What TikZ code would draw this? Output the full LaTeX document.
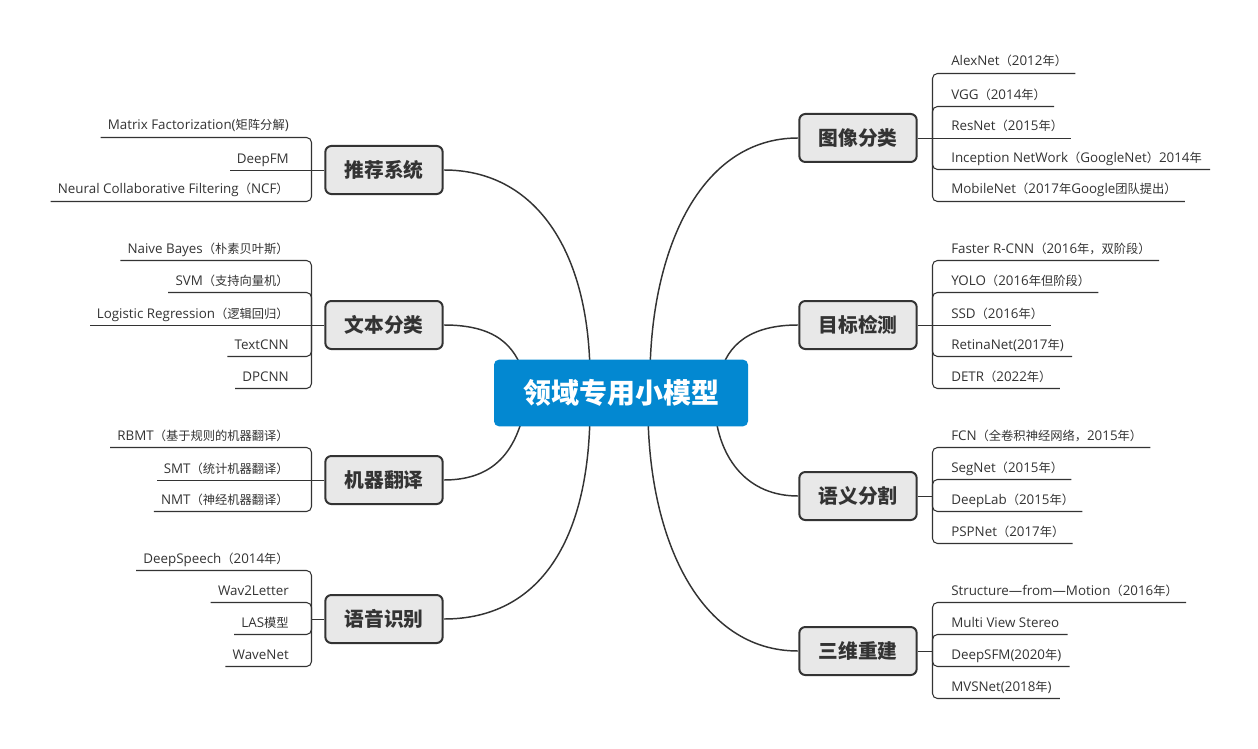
\documentclass[tikz,border=0pt]{standalone}
\usepackage{fontspec}
\setmainfont{Open Sans}[Scale=1.09]
\newfontfamily\cjkfont{Noto Sans CJK SC}
\newcommand{\zh}[1]{{\cjkfont #1}}
\usepackage{xcolor}
\usepackage{tikz}
\usetikzlibrary{calc,positioning}
\definecolor{rootblue}{RGB}{3,136,209}
\definecolor{inkgray}{RGB}{51,51,51}
\definecolor{boxgray}{RGB}{232,232,232}
\tikzset{
  rootbox/.style={rectangle, rounded corners=3.75pt, fill=rootblue, draw=none, minimum width=190.5pt, minimum height=50pt, text=white, font=\cjkfont\fontsize{21}{24}\selectfont\bfseries},
  branch/.style={rectangle, rounded corners=4.5pt, draw=inkgray, line width=1.5pt, fill=boxgray, minimum width=88pt, minimum height=36pt, text=inkgray, font=\cjkfont\fontsize{14.8}{17}\selectfont\bfseries},
  leafL/.style={anchor=base east, inner sep=0pt, text=inkgray, font=\fontsize{9.2}{11}\selectfont},
  leafR/.style={leafL, anchor=base west},
  limb/.style={draw=inkgray, line width=1.1pt},
  twig/.style={draw=inkgray, line width=0.8pt, rounded corners=3.75pt}
}

\begin{document}
\begin{tikzpicture}[x=0.75pt, y=-0.75pt]
\useasboundingbox (0,0) rectangle (1258,749);
% main branches
\draw[limb] (444,170) .. controls (535,170) and (589,250) .. (590,375);
\draw[limb] (444,325) .. controls (495,325) and (515,345) .. (524,375);
\draw[limb] (444,480) .. controls (495,480) and (515,450) .. (524,412);
\draw[limb] (444,619) .. controls (540,619) and (589,540) .. (590,412);
\draw[limb] (798,138) .. controls (700,138) and (651,250) .. (650,375);
\draw[limb] (798,325) .. controls (750,325) and (727,345) .. (720,375);
\draw[limb] (798,496) .. controls (748,496) and (720,460) .. (715,412);
\draw[limb] (798,651) .. controls (700,651) and (649,540) .. (648,412);

\node[rootbox] (root) at (621,393) {领域专用小模型};

\node[branch] (rec) at (384,170) {推荐系统};
\node[branch] (txt) at (384,325) {文本分类};
\node[branch] (mt) at (384,480) {机器翻译};
\node[branch] (asr) at (384,619) {语音识别};
\node[branch] (img) at (858,138) {图像分类};
\node[branch] (det) at (858,325) {目标检测};
\node[branch] (seg) at (858,496) {语义分割};
\node[branch] (r3d) at (858,651) {三维重建};

% left leaves
\node[leafL] (rec1) at (289,130) {Matrix Factorization(\zh{矩阵分解})};
\node[leafL] (rec2) at (289,163) {DeepFM};
\node[leafL] (rec3) at (289,194) {Neural Collaborative Filtering\zh{（}NCF\zh{）}};
\node[leafL] (txt1) at (289,253) {Naive Bayes\zh{（朴素贝叶斯）}};
\node[leafL] (txt2) at (289,285) {SVM\zh{（支持向量机）}};
\node[leafL] (txt3) at (289,318) {Logistic Regression\zh{（逻辑回归）}};
\node[leafL] (txt4) at (289,349) {TextCNN};
\node[leafL] (txt5) at (289,381) {DPCNN};
\node[leafL] (mt1) at (289,440) {RBMT\zh{（基于规则的机器翻译）}};
\node[leafL] (mt2) at (289,473) {SMT\zh{（统计机器翻译）}};
\node[leafL] (mt3) at (289,504) {NMT\zh{（神经机器翻译）}};
\node[leafL] (asr1) at (289,563) {DeepSpeech\zh{（}2014\zh{年）}};
\node[leafL] (asr2) at (289,595) {Wav2Letter};
\node[leafL] (asr3) at (289,627) {LAS\zh{模型}};
\node[leafL] (asr4) at (289,659) {WaveNet};

% right leaves
\node[leafR] (img1) at (951,66) {AlexNet\zh{（}2012\zh{年）}};
\node[leafR] (img2) at (951,99) {VGG\zh{（}2014\zh{年）}};
\node[leafR] (img3) at (951,131) {ResNet\zh{（}2015\zh{年）}};
\node[leafR] (img4) at (951,162) {Inception NetWork\zh{（}GoogleNet\zh{）}2014\zh{年}};
\node[leafR] (img5) at (951,194) {MobileNet\zh{（}2017\zh{年}Google\zh{团队提出）}};
\node[leafR] (det1) at (951,253) {Faster R-CNN\zh{（}2016\zh{年，双阶段）}};
\node[leafR] (det2) at (951,285) {YOLO\zh{（}2016\zh{年但阶段）}};
\node[leafR] (det3) at (951,318) {SSD\zh{（}2016\zh{年）}};
\node[leafR] (det4) at (951,349) {RetinaNet(2017\zh{年})};
\node[leafR] (det5) at (951,381) {DETR\zh{（}2022\zh{年）}};
\node[leafR] (seg1) at (951,440) {FCN\zh{（全卷积神经网络，}2015\zh{年）}};
\node[leafR] (seg2) at (951,472) {SegNet\zh{（}2015\zh{年）}};
\node[leafR] (seg3) at (951,504) {DeepLab\zh{（}2015\zh{年）}};
\node[leafR] (seg4) at (951,536) {PSPNet\zh{（}2017\zh{年）}};
\node[leafR] (r3d1) at (951,595) {Structure—from—Motion\zh{（}2016\zh{年）}};
\node[leafR] (r3d2) at (951,627) {Multi View Stereo};
\node[leafR] (r3d3) at (951,659) {DeepSFM(2020\zh{年})};
\node[leafR] (r3d4) at (951,691) {MVSNet(2018\zh{年})};

% brackets
\coordinate (recJ) at (311.5,170.5);
\coordinate (txtJ) at (311.5,325.5);
\coordinate (mtJ) at (311.5,480.5);
\coordinate (asrJ) at (311.5,619.5);
\coordinate (imgJ) at (932.5,138.5);
\coordinate (detJ) at (932.5,325.5);
\coordinate (segJ) at (932.5,496.5);
\coordinate (r3dJ) at (932.5,651.5);
\draw[twig] (asr.west |- asrJ) -- (asrJ);
\draw[twig] (seg.east |- segJ) -- (segJ);
\draw[twig] (r3d.east |- r3dJ) -- (r3dJ);

\draw[twig] (recJ) |- ($(rec1.base west)+(-7,7.5)$);
\draw[twig] (rec.west |- recJ) -- ($(rec2.base west)+(-7,7.5)$);
\draw[twig] (recJ) |- ($(rec3.base west)+(-7,7.5)$);
\draw[twig] (txtJ) |- ($(txt1.base west)+(-7,7.5)$);
\draw[twig] (txtJ) |- ($(txt2.base west)+(-7,7.5)$);
\draw[twig] (txt.west |- txtJ) -- ($(txt3.base west)+(-7,7.5)$);
\draw[twig] (txtJ) |- ($(txt4.base west)+(-7,7.5)$);
\draw[twig] (txtJ) |- ($(txt5.base west)+(-7,7.5)$);
\draw[twig] (mtJ) |- ($(mt1.base west)+(-7,7.5)$);
\draw[twig] (mt.west |- mtJ) -- ($(mt2.base west)+(-7,7.5)$);
\draw[twig] (mtJ) |- ($(mt3.base west)+(-7,7.5)$);
\draw[twig] (asrJ) |- ($(asr1.base west)+(-7,7.5)$);
\draw[twig] (asrJ) |- ($(asr2.base west)+(-7,7.5)$);
\draw[twig] (asrJ) |- ($(asr3.base west)+(-7,7.5)$);
\draw[twig] (asrJ) |- ($(asr4.base west)+(-7,7.5)$);

\draw[twig] (imgJ) |- ($(img1.base east)+(8,7.5)$);
\draw[twig] (imgJ) |- ($(img2.base east)+(8,7.5)$);
\draw[twig] (img.east |- imgJ) -- ($(img3.base east)+(8,7.5)$);
\draw[twig] (imgJ) |- ($(img4.base east)+(8,7.5)$);
\draw[twig] (imgJ) |- ($(img5.base east)+(8,7.5)$);
\draw[twig] (detJ) |- ($(det1.base east)+(8,7.5)$);
\draw[twig] (detJ) |- ($(det2.base east)+(8,7.5)$);
\draw[twig] (det.east |- detJ) -- ($(det3.base east)+(8,7.5)$);
\draw[twig] (detJ) |- ($(det4.base east)+(8,7.5)$);
\draw[twig] (detJ) |- ($(det5.base east)+(8,7.5)$);
\draw[twig] (segJ) |- ($(seg1.base east)+(8,7.5)$);
\draw[twig] (segJ) |- ($(seg2.base east)+(8,7.5)$);
\draw[twig] (segJ) |- ($(seg3.base east)+(8,7.5)$);
\draw[twig] (segJ) |- ($(seg4.base east)+(8,7.5)$);
\draw[twig] (r3dJ) |- ($(r3d1.base east)+(8,7.5)$);
\draw[twig] (r3dJ) |- ($(r3d2.base east)+(8,7.5)$);
\draw[twig] (r3dJ) |- ($(r3d3.base east)+(8,7.5)$);
\draw[twig] (r3dJ) |- ($(r3d4.base east)+(8,7.5)$);
\end{tikzpicture}
\end{document}
